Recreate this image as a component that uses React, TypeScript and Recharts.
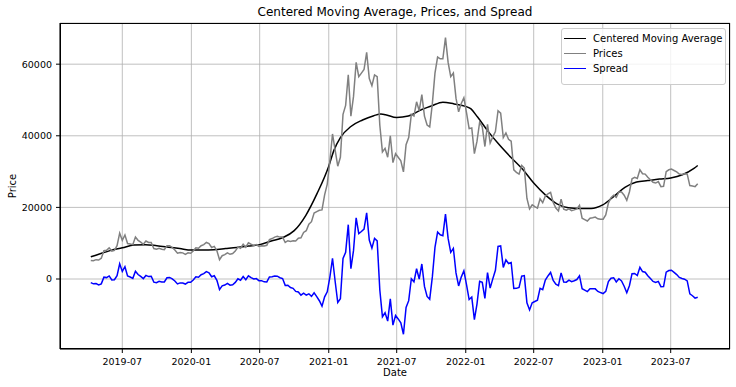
import { CartesianGrid, Line, LineChart, XAxis, YAxis } from "recharts";

// weekly samples (Mondays) starting 2019-04-08
const FIRST_WEEK = "2019-04-08";

const prices2019 = [5200, 5100, 5400, 5300, 5800, 7900, 8000, 8700, 7800, 8000, 9300, 12800, 10800, 12300, 9900, 9800, 9600, 11700, 10800, 10300, 9700, 10600, 10200, 10200, 8500, 8300, 8600, 8300, 8200, 9300, 9300, 8800, 8100, 7200, 7400, 7300, 6900, 7300, 7200];
const prices2020 = [7800, 8700, 8600, 9300, 9600, 10200, 9900, 8800, 9100, 7900, 5400, 6500, 6800, 7300, 6900, 7100, 7800, 8900, 8600, 9700, 8900, 10100, 9700, 9400, 9600, 9100, 9300, 9200, 9400, 11000, 11300, 11700, 11900, 11700, 11700, 10200, 10700, 10500, 10700, 10600, 11400, 11500, 13000, 13500, 15300, 16000, 18400, 18800, 19200, 19300, 23500, 26500];
const prices2021 = [33000, 40500, 36000, 31500, 34000, 46000, 48500, 57000, 45500, 51000, 60500, 56500, 57500, 58500, 63300, 56000, 54000, 57000, 56500, 43000, 35500, 36500, 34000, 40000, 32500, 35000, 34000, 33000, 29900, 37500, 39500, 46000, 45500, 49500, 47000, 51500, 45500, 43000, 42500, 49000, 57500, 62000, 61500, 61500, 67400, 60500, 56500, 57500, 50500, 46700, 49000, 50600];
const prices2022 = [46500, 42000, 42200, 35000, 38500, 43800, 42500, 37000, 43200, 38000, 39700, 41200, 47000, 46300, 39500, 40800, 39000, 38500, 30500, 29800, 29300, 31700, 31000, 22500, 19600, 20700, 20200, 19800, 22400, 21300, 23200, 23800, 24200, 21400, 19800, 19000, 22300, 19500, 19200, 19600, 19100, 19300, 19600, 20600, 17000, 16600, 16200, 17000, 17100, 17300, 16800, 16700];
const prices2023 = [16700, 17900, 21200, 22700, 23400, 22800, 24300, 24300, 23400, 22000, 24300, 28000, 28400, 28100, 30500, 29400, 29300, 28400, 27700, 27000, 26800, 27200, 25800, 25900, 30000, 30500, 30700, 30300, 29900, 29300, 29200, 29400, 29300, 26100, 26000, 25800, 26600];

const spread2019 = [-1000, -1350, -1290, -1630, -1360, 510, 390, 860, -250, -210, 930, 4260, 2100, 3420, 840, 560, 180, 2190, 1260, 740, 120, 1000, 680, 750, -880, -1010, -620, -830, -840, 350, 440, 30, -570, -1380, -1090, -1100, -1410, -920, -930];
const spread2020 = [-300, 600, 500, 1200, 1490, 2070, 1740, 620, 900, -380, -2950, -1920, -1690, -1250, -1720, -1590, -960, 60, -330, 680, -210, 900, 410, 10, 120, -470, -460, -790, -810, 560, 640, 810, 780, 360, 130, -1780, -1720, -2370, -2610, -3460, -3630, -4500, -3970, -4500, -4130, -4850, -3870, -4900, -6070, -7580, -4980, -3580];
const spread2021 = [540, 5790, -620, -6560, -5500, 5720, 7450, 15170, 2900, 7990, 17090, 12680, 13270, 13940, 18460, 10880, 8600, 11350, 10660, -3020, -10530, -9420, -11740, -5550, -12870, -10180, -11150, -12240, -15430, -7920, -6050, 90, -780, 2860, 0, 4200, -2080, -4860, -5640, 590, 8850, 13100, 12350, 12100, 18120, 11330, 7450, 8570, 1710, -1930, 530, 2290];
const spread2022 = [-1600, -5750, -5040, -11340, -6930, -640, -940, -5440, 1760, -2540, 40, 2420, 9100, 9240, 3230, 5320, 4320, 4610, -2650, -2610, -2360, 790, 950, -6640, -8630, -6620, -6280, -5940, -2600, -2950, -300, 860, 1830, -410, -1440, -1850, 1700, -840, -880, -290, -740, -500, -150, 890, -2700, -3100, -3500, -2700, -2730, -2750, -3470, -3790];
const spread2023 = [-4080, -3450, -710, 220, 360, -830, 70, -530, -2030, -3850, -1890, 1480, 1540, 970, 3280, 2090, 1890, 900, 110, -680, -970, -660, -2140, -2110, 1920, 2350, 2440, 1840, 1240, 430, 130, -50, -550, -4160, -4670, -5340, -5100];

const cmaDates = [
  "2019-04-08", "2019-05-01", "2019-06-01", "2019-07-01", "2019-08-01", "2019-09-01", "2019-10-01", "2019-11-01", "2019-12-01",
  "2020-01-01", "2020-02-01", "2020-03-01", "2020-04-01", "2020-05-01", "2020-06-01", "2020-07-01", "2020-08-01", "2020-09-01", "2020-10-01", "2020-11-01", "2020-12-01",
  "2021-01-01", "2021-01-15", "2021-02-01", "2021-03-01", "2021-04-01", "2021-05-01", "2021-05-20", "2021-06-01", "2021-07-01", "2021-08-01", "2021-09-01", "2021-10-01", "2021-11-01", "2021-12-01",
  "2022-01-01", "2022-01-15", "2022-02-01", "2022-03-01", "2022-04-01", "2022-05-01", "2022-06-01", "2022-07-01", "2022-08-01", "2022-09-01", "2022-10-01", "2022-11-01", "2022-12-01",
  "2023-01-01", "2023-02-01", "2023-03-01", "2023-04-01", "2023-05-01", "2023-06-01", "2023-07-01", "2023-08-01", "2023-09-01", "2023-09-11",
];
const cmaValues = [
  6200, 7000, 8000, 8700, 9500, 9600, 9300, 8900, 8500,
  8100, 8100, 8200, 8500, 8800, 9200, 9600, 10600, 11600, 13500, 17800, 23900,
  31500, 36000, 39500, 42600, 44400, 45600, 46100, 45900, 45100, 45500, 47100, 48300, 49400, 48900,
  48200, 47500, 45300, 41300, 37400, 34000, 30700, 26800, 23500, 21000, 19900, 19700, 19700,
  20700, 23200, 25600, 27100, 27500, 27900, 28200, 29100, 30900, 31700,
];

const xTickLabels = ["2019-07", "2020-01", "2020-07", "2021-01", "2021-07", "2022-01", "2022-07", "2023-01", "2023-07"];
const yTicks = [0, 20000, 40000, 60000];

const DAY = 86400000;
const toMs = (s: string) => Date.parse(s + "T00:00:00Z");
const week0 = toMs(FIRST_WEEK);

const prices = [...prices2019, ...prices2020, ...prices2021, ...prices2022, ...prices2023];
const spread = [...spread2019, ...spread2020, ...spread2021, ...spread2022, ...spread2023];
const weekly = prices.map((p, i) => ({ t: week0 + i * 7 * DAY, price: p, spread: spread[i] }));
const cma = cmaDates.map((d, i) => ({ t: toMs(d), cma: cmaValues[i] }));

const xTicks = xTickLabels.map((m) => toMs(m + "-01"));
const fmtMonth = (v: number) => new Date(v).toISOString().slice(0, 7);

const FONT = "DejaVu Sans, sans-serif";

export default function App() {
  return (
    <div style={{ position: "absolute", left: 0, top: 0, width: 736, height: 387, background: "#fff", fontFamily: FONT }}>
      <div style={{ position: "absolute", left: 60, width: 670, top: 5, textAlign: "center", fontSize: 12 }}>
        Centered Moving Average, Prices, and Spread
      </div>
      <LineChart width={736} height={387} data={weekly} margin={{ top: 23, right: 6, bottom: 0, left: 0 }}>
        <CartesianGrid stroke="#b0b0b0" strokeWidth={0.8} horizontalPoints={undefined} />
        <XAxis
          dataKey="t"
          type="number"
          domain={[toMs("2019-01-16"), toMs("2023-12-06")]}
          ticks={xTicks}
          tickFormatter={fmtMonth}
          height={38}
          tickSize={4}
          tickMargin={5}
          stroke="#000"
          tick={{ fill: "#000", fontSize: 9.5, fontFamily: FONT }}
          allowDataOverflow
        />
        <YAxis
          type="number"
          domain={[-19550, 71500]}
          ticks={yTicks}
          width={60}
          tickSize={4}
          tickMargin={4}
          stroke="#000"
          tick={{ fill: "#000", fontSize: 9.5, fontFamily: FONT }}
          allowDataOverflow
        />
        <Line data={cma} dataKey="cma" type="monotone" stroke="#000000" strokeWidth={1.5} dot={false} isAnimationActive={false} />
        <Line dataKey="price" type="linear" stroke="#808080" strokeWidth={1.5} dot={false} isAnimationActive={false} />
        <Line dataKey="spread" type="linear" stroke="#0000ff" strokeWidth={1.5} dot={false} isAnimationActive={false} />
      </LineChart>
      {/* frame */}
      <div style={{ position: "absolute", left: 60, top: 23, width: 670, height: 326, border: "1px solid #000", boxSizing: "border-box", pointerEvents: "none" }} />
      <div style={{ position: "absolute", left: 60, width: 670, top: 367, textAlign: "center", fontSize: 10 }}>Date</div>
      <div style={{ position: "absolute", left: 12, top: 186, transform: "translate(-50%, -50%) rotate(-90deg)", fontSize: 10 }}>Price</div>
      <div style={{ position: "absolute", left: 561, top: 28, width: 165, height: 57, border: "1px solid #ccc", borderRadius: 3, background: "rgba(255,255,255,0.8)", boxSizing: "border-box", fontSize: 10 }}>
        {[
          ["Centered Moving Average", "#000000"],
          ["Prices", "#808080"],
          ["Spread", "#0000ff"],
        ].map(([name, color], i) => (
          <div key={name} style={{ position: "absolute", left: 2, top: 2 + i * 15, height: 14, display: "flex", alignItems: "center" }}>
            <span style={{ display: "inline-block", width: 22, height: 0, borderTop: `1.5px solid ${color}`, marginRight: 7 }} />
            <span style={{ whiteSpace: "nowrap" }}>{name}</span>
          </div>
        ))}
      </div>
    </div>
  );
}
